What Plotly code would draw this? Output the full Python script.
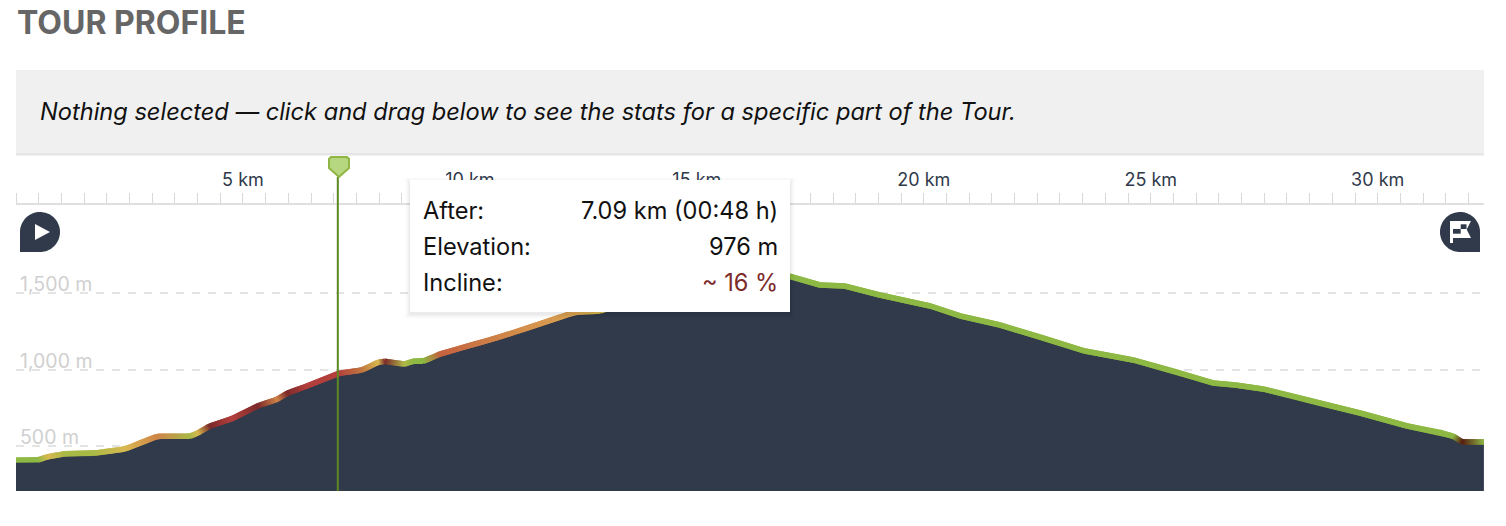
import math
import plotly.graph_objects as go

W, H = 1506, 526
L, R, T, B = 16, 1484, 205, 491

km = [0, .48, .7, 1.08, 1.70, 2.40, 3.11, 3.83, 4.0, 4.27, 4.76, 5.33, 5.75, 5.97, 6.41, 7.09, 7.62, 7.98, 8.13,
      8.55, 8.75, 8.97, 9.34, 10.66, 12.32, 12.87, 13.75, 14.63, 15.51, 16.39, 17.05, 17.71, 18.26, 19.03, 20.14,
      20.80, 21.68, 22.56, 23.55, 24.61, 25.49, 26.37, 26.86, 27.47, 28.22, 28.88, 29.61, 30.65, 31.44, 31.66,
      31.86, 32.34]
elevation = [411, 411, 433, 452, 455, 483, 566, 566, 587, 633, 681, 765, 807, 846, 894, 976, 998, 1049, 1055,
             1037, 1055, 1055, 1103, 1214, 1376, 1383, 1481, 1585, 1664, 1664, 1611, 1553, 1546, 1488, 1416,
             1351, 1292, 1214, 1122, 1064, 992, 914, 901, 875, 822, 770, 718, 633, 587, 568,
             529, 529]
G, Y, O, R1, D, M = "#8db843", "#d8b950", "#cf8449", "#b33f3d", "#7c2a2a", "#561c12"
incline_colours = [G, G, Y, "#a9b946", "#a9b946", Y, O, "#a9b946", Y, D, R1, D, O, D, R1, R1, "#c0773f", Y, D,
                   "#b0b848", G, G, "#c4623f", O, "#dca552", Y, G, G, G, G, G, G, G, G, G,
                   G, G, G, G, G, G, G, G, G, G, G, G, G, G, G,
                   M, G]
tick_km = [i * 0.5 for i in range(65)]
tick_text = [f"{int(t)} km" if t % 5 == 0 and t > 0 else "" for t in tick_km]
grid_m = [500, 1000, 1500]
grid_text = ["500 m", "1,000 m", "1,500 m"]
cursor_km = 7.09
tooltip_rows = [("After:", "7.09 km (00:48 h)", "#111111"), ("Elevation:", "976 m", "#111111"),
                ("Incline:", "~ 16 %", "#7c2a2a")]
TITLE = "TOUR PROFILE"
BANNER = "Nothing selected — click and drag below to see the stats for a specific part of the Tour."
FONT = "Inter"
Y_RANGE = [209, 2075]
X_RANGE = [0, (R - L) / 45.39]


def px(x):
    return (x - L) / (R - L)


def py(y):
    return (B - y) / (B - T)


def path(points):
    return "M" + " L".join(f"{px(x):.5f},{py(y):.5f}" for x, y in points) + " Z"


def rect(x0, y0, x1, y1, fill, **kw):
    return dict(type="rect", xref="paper", yref="paper", x0=px(x0), x1=px(x1), y0=py(y0), y1=py(y1),
                fillcolor=fill, line_width=0, **kw)


def poly(points, fill, **kw):
    return dict(type="path", xref="paper", yref="paper", path=path(points), fillcolor=fill,
                line=kw.get("line", dict(width=0)))


def text(x, y, s, size, color, anchor="left"):
    return dict(xref="paper", yref="paper", x=px(x), y=py(y), text=s, showarrow=False, xanchor=anchor,
                yanchor="middle", font=dict(family=FONT, size=size, color=color))


def mix(a, b, t):
    ca = [int(a[i:i + 2], 16) for i in (1, 3, 5)]
    cb = [int(b[i:i + 2], 16) for i in (1, 3, 5)]
    return "rgb(%d,%d,%d)" % tuple(round(p + (q - p) * t) for p, q in zip(ca, cb))


def blob(x0, y0, x1, y1, corner):
    """Circular badge with one square bottom corner."""
    r = (x1 - x0) / 2
    cx, cy = (x0 + x1) / 2, (y0 + y1) / 2
    n = 64
    first = 180 if corner == "bl" else 90
    angles = [first + 270 * i / n for i in range(n + 1)]
    pts = [(cx + r * math.cos(math.radians(a)), cy + r * math.sin(math.radians(a))) for a in angles]
    pts.append((x0, y1) if corner == "bl" else (x1, y1))
    return poly(pts, "#303a4a")


fig = go.Figure()
fig.add_trace(go.Scatter(x=km, y=elevation, mode="none", fill="tozeroy", fillcolor="#303a4a", hoverinfo="skip"))

# Line coloured by incline, blended between neighbouring vertices.
# Each stroke runs on into the next one so that no seams show between colours.
strokes = [(km[0], elevation[0], None)]
for i in range(len(km) - 1):
    a, b = incline_colours[i], incline_colours[i + 1]
    pieces = 1 if a == b else 10
    for p in range(pieces):
        t1 = (p + 1) / pieces
        strokes.append((km[i] + (km[i + 1] - km[i]) * t1,
                        elevation[i] + (elevation[i + 1] - elevation[i]) * t1,
                        mix(a, b, (p + .5) / pieces)))
for k in range(1, len(strokes)):
    chunk = strokes[k - 1:k + 2]
    fig.add_trace(go.Scatter(x=[c[0] for c in chunk], y=[c[1] for c in chunk], mode="lines",
                             line=dict(color=strokes[k][2], width=5.5), hoverinfo="skip"))

shapes = [
    rect(16, 70, 1484, 153, "#f0f0f0"),
    rect(16, 153, 1484, 155.5, "#e6e6e6"),
    blob(20, 212, 60, 252, "bl"),
    poly([(35, 224), (50, 232), (35, 240)], "white"),
    blob(1440, 212, 1480, 252, "br"),
    poly([(1450, 221), (1471, 221), (1466.7, 229.5), (1471, 238), (1453, 238), (1453, 243), (1450, 243)], "white"),
    rect(1453, 229, 1460.7, 233.7, "#303a4a"),
    rect(1460.7, 224.3, 1466.5, 229, "#303a4a"),
    # cursor
    dict(type="line", xref="x", yref="paper", x0=cursor_km, x1=cursor_km, y0=py(177), y1=py(491),
         line=dict(color="#5c8a22", width=2)),
    poly([(331, 157), (347, 157), (349, 159), (349, 168), (339, 177), (329, 168), (329, 159)], "#b6d680",
         line=dict(color="#8fb544", width=2)),
]
for spread, alpha in ((5, .008), (4, .012), (3, .016), (2, .02), (1, .025)):
    shapes.append(rect(410 - spread, 180 - spread + 2, 790 + spread, 312 + spread + 2,
                       f"rgba(0,0,0,{alpha})"))
shapes.append(rect(410, 180, 790, 312, "white"))

annotations = [
    text(15, 23, f"<b>{TITLE}</b>", 32, "#666666"),
    text(38, 112, f"<i>{BANNER}</i>", 23.6, "#111111"),
]
for m, s in zip(grid_m, grid_text):
    annotations.append(dict(xref="paper", yref="y", x=px(20), y=m, text=s, showarrow=False, xanchor="left",
                            yanchor="bottom", yshift=-5, xshift=-2, font=dict(family=FONT, size=19.5, color="#d0d0d0")))
for (label, value, colour), y in zip(tooltip_rows, (210, 246, 282)):
    annotations.append(text(421, y, label, 23.6, "#111111"))
    annotations.append(text(780, y, value, 23.6, colour, anchor="right"))

fig.update_layout(
    width=W, height=H, margin=dict(l=L, r=W - R, t=T, b=H - B, pad=0), showlegend=False,
    paper_bgcolor="white", plot_bgcolor="white", font=dict(family=FONT),
    shapes=shapes, annotations=annotations,
    xaxis=dict(range=X_RANGE, side="top", tickvals=tick_km, ticktext=tick_text, ticks="outside", ticklen=10,
               tickwidth=1, tickcolor="#d8d8d8", showline=True, linecolor="#dfdfdf", linewidth=2, showgrid=False,
               zeroline=False, tickangle=0, tickfont=dict(family=FONT, size=18, color="#303a4a"), fixedrange=True),
    yaxis=dict(range=Y_RANGE, tickvals=grid_m, showticklabels=False, showgrid=True, gridcolor="#e4e4e4",
               griddash="8px,8px", gridwidth=2, zeroline=False, showline=False, fixedrange=True),
)
fig.write_html("out.html", config=dict(displayModeBar=False),
               post_script="document.body.style.margin='0';document.body.style.overflow='hidden';")
